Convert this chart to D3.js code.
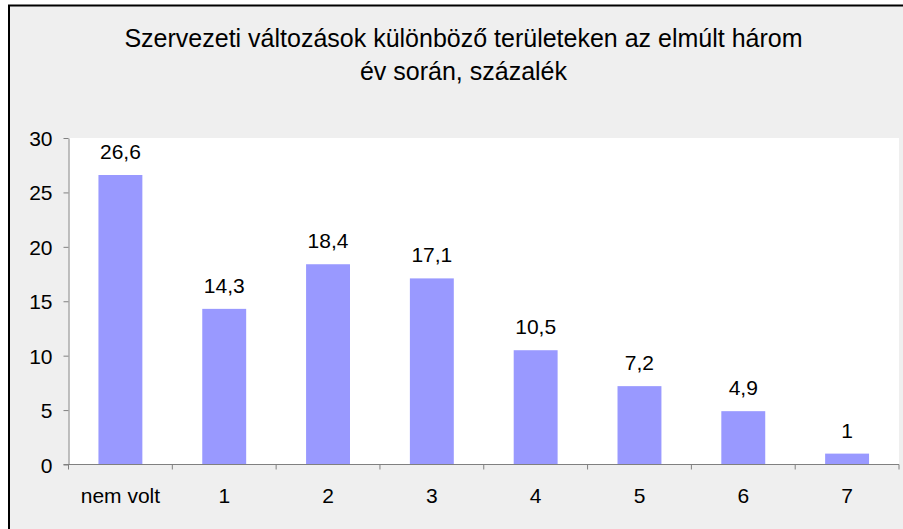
<!DOCTYPE html>
<html>
<head>
<meta charset="utf-8">
<script src="https://cdn.jsdelivr.net/npm/d3@7"></script>
<style>
  html, body { margin: 0; padding: 0; background: #fff; }
  text { font-family: "Liberation Sans", Arial, sans-serif; fill: #000; }
</style>
</head>
<body>
<svg id="svg" width="903" height="529"></svg>
<script>
// chart data
var categories = ["nem volt", "1", "2", "3", "4", "5", "6", "7"];
var values = [26.6, 14.3, 18.4, 17.1, 10.5, 7.2, 4.9, 1];
var yTicks = [0, 5, 10, 15, 20, 25, 30];
var titleLines = ["Szervezeti változások különböző területeken az elmúlt három", "év során, százalék"];

var width = 903, height = 529;
var plot = {left: 68.5, right: 899, top: 138, bottom: 464.5};

var svg = d3.select("#svg");

// chart area (gray) with the border on top and left
svg.append("rect").attr("x", 9).attr("y", 6).attr("width", width).attr("height", height)
	.attr("fill", "#efefef");
svg.append("path").attr("d", "M9," + height + "V5.5H" + width)
	.attr("fill", "none").attr("stroke", "#000").attr("stroke-width", 2);

// plot area
svg.append("rect").attr("x", plot.left).attr("y", plot.top)
	.attr("width", plot.right - plot.left).attr("height", plot.bottom - plot.top)
	.attr("fill", "#fff");

var x = d3.scaleBand().domain(categories).range([plot.left, plot.right])
	.paddingInner(0.577).paddingOuter(0.577 / 2);
var y = d3.scaleLinear().domain([0, 30]).range([plot.bottom, plot.top]);

// bars
svg.append("g").selectAll("rect").data(values).enter().append("rect")
	.attr("x", function(d, i){ return x(categories[i]); })
	.attr("y", function(d){ return y(d); })
	.attr("width", x.bandwidth())
	.attr("height", function(d){ return y(0) - y(d); })
	.attr("fill", "#9999ff");

// value labels (hungarian decimal comma)
svg.append("g").selectAll("text").data(values).enter().append("text")
	.attr("x", function(d, i){ return x(categories[i]) + x.bandwidth() / 2; })
	.attr("y", function(d){ return y(d) - 16; })
	.attr("text-anchor", "middle")
	.style("font-size", "21px")
	.text(function(d){ return String(d).replace(".", ","); });

// y axis
var yAxis = svg.append("g").attr("transform", "translate(" + plot.left + ",0)")
	.call(d3.axisLeft(y).tickValues(yTicks).tickSize(5).tickSizeOuter(0).tickPadding(11));
yAxis.selectAll("text").style("font-size", "21px").attr("fill", "#000")
	.attr("dy", "0.36em");
yAxis.attr("font-family", null);
yAxis.select(".domain").attr("stroke", "#808080");
yAxis.selectAll(".tick line").attr("stroke", "#808080");

// x axis, ticks between categories
var step = x.step();
var xAxis = svg.append("g").attr("transform", "translate(0," + plot.bottom + ")");
xAxis.append("line").attr("x1", plot.left - 5).attr("x2", plot.right).attr("stroke", "#808080");
xAxis.selectAll(".tk").data(d3.range(categories.length + 1)).enter().append("line")
	.attr("x1", function(i){ return plot.left + i * step; })
	.attr("x2", function(i){ return plot.left + i * step; })
	.attr("y1", 0).attr("y2", 5)
	.attr("stroke", "#808080");
xAxis.selectAll("text").data(categories).enter().append("text")
	.attr("x", function(d){ return x(d) + x.bandwidth() / 2; })
	.attr("y", 38)
	.attr("text-anchor", "middle")
	.style("font-size", "21px")
	.text(function(d){ return d; });

// title
svg.append("g").selectAll("text").data(titleLines).enter().append("text")
	.attr("x", 463.5)
	.attr("y", function(d, i){ return 47 + i * 33; })
	.attr("text-anchor", "middle")
	.style("font-size", "25px")
	.text(function(d){ return d; });
</script>
</body>
</html>
